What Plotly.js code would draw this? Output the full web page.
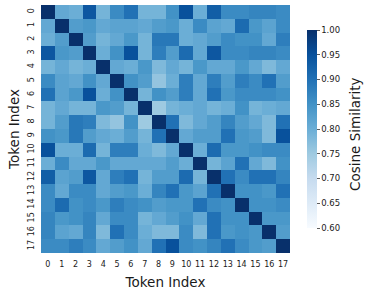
<!DOCTYPE html>
<html>
<head>
<meta charset="utf-8">
<script src="https://cdn.plot.ly/plotly-3.0.1.min.js"></script>
<style>html,body{margin:0;padding:0;background:#fff;}#chart{width:366px;height:294px;}</style>
</head>
<body>
<div id="chart"></div>
<script>
const tokens = [0,1,2,3,4,5,6,7,8,9,10,11,12,13,14,15,16,17];
const tickLabels = tokens.map(String);
const row0  = [1.00,0.81,0.80,0.94,0.79,0.86,0.90,0.79,0.79,0.85,0.95,0.80,0.93,0.86,0.86,0.87,0.87,0.86];
const row1  = [0.81,1.00,0.83,0.84,0.81,0.82,0.82,0.81,0.83,0.84,0.80,0.86,0.82,0.81,0.91,0.84,0.82,0.86];
const row2  = [0.80,0.83,1.00,0.83,0.79,0.81,0.84,0.79,0.89,0.89,0.80,0.81,0.83,0.86,0.85,0.85,0.81,0.88];
const row3  = [0.94,0.84,0.83,1.00,0.80,0.85,0.95,0.79,0.88,0.83,0.91,0.81,0.94,0.86,0.86,0.87,0.87,0.86];
const row4  = [0.79,0.81,0.79,0.80,1.00,0.81,0.80,0.84,0.78,0.81,0.79,0.84,0.81,0.81,0.84,0.81,0.78,0.81];
const row5  = [0.86,0.82,0.81,0.85,0.81,1.00,0.85,0.83,0.76,0.80,0.88,0.81,0.88,0.83,0.88,0.86,0.90,0.83];
const row6  = [0.90,0.82,0.84,0.95,0.80,0.85,1.00,0.79,0.85,0.83,0.88,0.81,0.90,0.84,0.86,0.86,0.86,0.85];
const row7  = [0.79,0.81,0.79,0.79,0.84,0.83,0.79,1.00,0.75,0.79,0.80,0.81,0.79,0.80,0.85,0.79,0.80,0.81];
const row8  = [0.79,0.83,0.89,0.88,0.78,0.76,0.85,0.75,1.00,0.90,0.78,0.81,0.83,0.87,0.83,0.81,0.78,0.90];
const row9  = [0.85,0.84,0.89,0.83,0.81,0.80,0.83,0.79,0.90,1.00,0.81,0.83,0.83,0.90,0.84,0.83,0.78,0.95];
const row10 = [0.95,0.80,0.80,0.91,0.79,0.88,0.88,0.80,0.78,0.81,1.00,0.80,0.91,0.84,0.84,0.85,0.86,0.86];
const row11 = [0.80,0.86,0.81,0.81,0.84,0.81,0.81,0.81,0.81,0.83,0.80,1.00,0.79,0.82,0.90,0.81,0.78,0.85];
const row12 = [0.93,0.82,0.83,0.94,0.81,0.88,0.90,0.79,0.83,0.83,0.91,0.79,1.00,0.90,0.86,0.90,0.90,0.87];
const row13 = [0.86,0.81,0.86,0.86,0.81,0.83,0.84,0.80,0.87,0.90,0.84,0.82,0.90,1.00,0.85,0.85,0.84,0.90];
const row14 = [0.86,0.91,0.85,0.86,0.84,0.88,0.86,0.85,0.83,0.84,0.84,0.90,0.86,0.85,1.00,0.85,0.85,0.86];
const row15 = [0.87,0.84,0.85,0.87,0.81,0.86,0.86,0.79,0.81,0.83,0.85,0.81,0.90,0.85,0.85,1.00,0.84,0.84];
const row16 = [0.87,0.82,0.81,0.87,0.78,0.90,0.86,0.80,0.78,0.78,0.86,0.78,0.90,0.84,0.85,0.84,1.00,0.83];
const row17 = [0.86,0.86,0.88,0.86,0.81,0.83,0.85,0.81,0.90,0.95,0.86,0.85,0.87,0.90,0.86,0.84,0.83,1.00];
const z = [row0,row1,row2,row3,row4,row5,row6,row7,row8,row9,row10,row11,row12,row13,row14,row15,row16,row17];
const cbTicks = [0.60,0.65,0.70,0.75,0.80,0.85,0.90,0.95,1.00];

const blues = [
  [0.000,'#f7fbff'],[0.125,'#deebf7'],[0.250,'#c6dbef'],[0.375,'#9ecae1'],
  [0.500,'#6baed6'],[0.625,'#4292c6'],[0.750,'#2171b5'],[0.875,'#08519c'],[1.000,'#08306b']
];
const font = {family:'DejaVu Sans, sans-serif', color:'#1a1a1a'};

Plotly.newPlot('chart', [{
  type:'heatmap', x:tokens, y:tokens, z:z, zmin:0.6, zmax:1.0,
  colorscale:blues, xgap:0, ygap:0,
  colorbar:{
    x:1.068, xanchor:'left', xpad:0, ypad:0, y:0.5, yanchor:'middle',
    len:0.8, lenmode:'fraction', thickness:10, thicknessmode:'pixels',
    outlinewidth:0, ticks:'outside', ticklen:3, tickwidth:0.8, tickcolor:'#333',
    tickvals:cbTicks, ticktext:cbTicks.map(v=>v.toFixed(2)),
    tickfont:{...font, size:8.5}
  }
}], {
  width:366, height:294,
  margin:{l:41, r:76, t:5, b:41, pad:0},
  paper_bgcolor:'#fff', plot_bgcolor:'#fff',
  font:font,
  xaxis:{
    tickvals:tokens, ticktext:tickLabels, ticks:'', tickangle:0, ticklabelstandoff:5,
    tickfont:{...font, size:8}, showgrid:false, zeroline:false, showline:false,
    title:{text:'Token Index', font:{...font, size:13.5}, standoff:9}, automargin:false
  },
  yaxis:{
    tickvals:tokens, ticktext:tickLabels, ticks:'', tickangle:-90, ticklabelstandoff:4,
    autorange:'reversed', tickfont:{...font, size:8},
    showgrid:false, zeroline:false, showline:false,
    title:{text:'Token Index', font:{...font, size:13.5}, standoff:4}, automargin:false
  },
  annotations:[{
    text:'Cosine Similarity', xref:'paper', yref:'paper', x:1.261, y:0.48,
    xanchor:'center', yanchor:'middle', textangle:-90, showarrow:false,
    font:{...font, size:13.5}
  }]
}, {displayModeBar:false, staticPlot:true});
</script>
</body>
</html>
